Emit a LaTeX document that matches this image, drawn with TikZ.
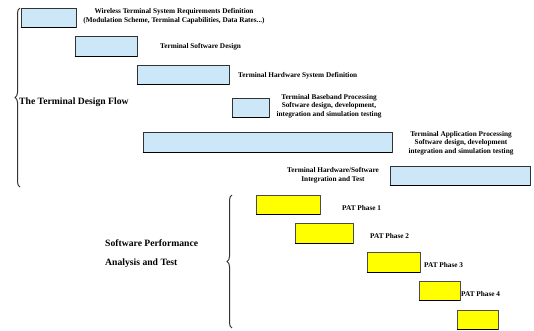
\documentclass[tikz,border=0pt]{standalone}
\usepackage{fontspec}
\setmainfont{Liberation Serif}
\usetikzlibrary{decorations.pathreplacing}
\definecolor{boxblue}{HTML}{CCE8F8}
\definecolor{boxyellow}{HTML}{FFFF00}
\tikzset{
  bluebox/.style={draw=black!80, line width=0.6bp, fill=boxblue, inner sep=0pt},
  yelbox/.style={draw=black!70, line width=0.6bp, fill=boxyellow, inner sep=0pt},
  shade line/.style={line width=1.6bp, black},
  lbl/.style={font=\bfseries\fontsize{7.3}{8.7}\selectfont, align=center, inner sep=0pt},
  biglbl/.style={font=\bfseries\fontsize{9.7}{11}\selectfont, anchor=west, inner sep=0pt},
  bracebar/.style={decorate, decoration={brace, amplitude=5bp, mirror}, line width=1bp, black!80}
}
\newcommand{\boxat}[6]{% style, name, x1, y1, x2, y2
  \node[#1, minimum width={(#5-#3)*1bp}, minimum height={(#6-#4)*1bp}] (#2) at ({(#3+#5)/2},{(#4+#6)/2}) {};
  \draw[shade line] (#2.south west) -- (#2.south east);
}
\begin{document}
\begin{tikzpicture}[x=1bp,y=-1bp]
\useasboundingbox (0,0) rectangle (534,330);
% blue boxes
\boxat{bluebox}{b1}{21}{8}{76}{27}
\boxat{bluebox}{b2}{75}{36}{137}{56}
\boxat{bluebox}{b3}{137}{65}{229}{84}
\boxat{bluebox}{b4}{232}{98}{269}{117}
\boxat{bluebox}{b5}{143}{132}{392}{152}
\boxat{bluebox}{b6}{390}{166}{530}{185}
% yellow boxes
\boxat{yelbox}{y1}{256}{195}{320}{214}
\boxat{yelbox}{y2}{295}{223}{353}{243}
\boxat{yelbox}{y3}{367}{252}{420}{272}
\boxat{yelbox}{y4}{419}{281}{460}{300}
\boxat{yelbox}{y5}{457}{310}{498}{329}
% labels
\node[lbl] (t1) at (174,16) {Wireless Terminal System Requirements Definition\\(Modulation Scheme, Terminal Capabilities, Data Rates...)};
\node[lbl, anchor=west] (t2) at (160,47) {Terminal Software Design};
\node[lbl, anchor=west] (t3) at (238,76) {Terminal Hardware System Definition};
\node[lbl] (t4) at (329,106) {Terminal Baseband Processing\\Software design, development,\\integration and simulation testing};
\node[lbl] (t5) at (461,143) {Terminal Application Processing\\Software design, development\\integration and simulation testing};
\node[lbl] (t6) at (333,175) {Terminal Hardware/Software\\Integration and Test};
\node[lbl, anchor=west] (p1) at (342,208) {PAT Phase 1};
\node[lbl, anchor=west] (p2) at (370,236) {PAT Phase 2};
\node[lbl, anchor=west] (p3) at (424,265) {PAT Phase 3};
\node[lbl, anchor=west] (p4) at (461,294) {PAT Phase 4};
\node[biglbl] (g1) at (19,102) {The Terminal Design Flow};
\node[biglbl] (g2) at (105,243) {Software Performance};
\node[biglbl] (g3) at (105,263) {Analysis and Test};
% braces
\coordinate (br1a) at (20,8);
\coordinate (br1b) at (20,187);
\coordinate (br2a) at (232,195);
\coordinate (br2b) at (232,328);
\draw[bracebar] (br1a) -- (br1b);
\draw[bracebar] (br2a) -- (br2b);
\end{tikzpicture}
\end{document}
